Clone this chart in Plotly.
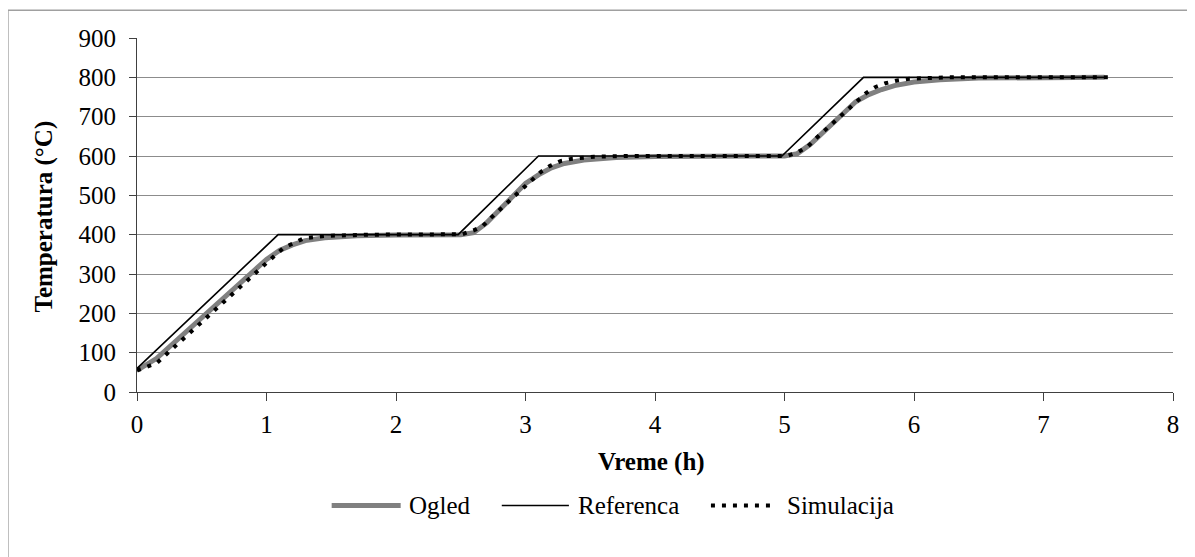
import plotly.graph_objects as go

# Reference (setpoint) profile
ref_t = [0, 1.09, 2.48, 3.10, 4.98, 5.61, 7.47]
ref_T = [60, 400, 400, 600, 600, 800, 800]

# Measured (Ogled)
ogled_t = [0, 0.15, 1.00, 1.10, 1.20, 1.30, 1.45, 1.70, 2.00, 2.50,
           2.60, 2.70, 3.00, 3.10, 3.20, 3.30, 3.45, 3.70, 4.00, 5.00,
           5.10, 5.20, 5.55, 5.65, 5.75, 5.85, 6.00, 6.20, 6.50, 7.47]
ogled_T = [55, 85, 337, 360, 374, 385, 392, 397, 399, 400,
           405, 430, 530, 552, 570, 581, 590, 596, 599, 600,
           606, 630, 738, 756, 769, 779, 788, 794, 798, 800]

# Simulation (Simulacija)
sim_t = [0, 0.15, 1.00, 1.13, 1.29, 1.46, 1.80, 2.51,
         2.60, 2.67, 2.73, 3.05, 3.12, 3.19, 3.27, 3.36, 3.45, 3.53, 3.80, 5.02,
         5.10, 5.18, 5.24, 5.56, 5.63, 5.70, 5.78, 5.87, 5.95, 6.10, 6.25, 7.53]
sim_T = [55, 73, 328, 366, 391, 397, 400, 401,
         411, 422, 442, 541, 560, 575, 587, 593, 596, 598, 600, 600,
         609, 624, 644, 742, 760, 775, 785, 792, 796, 798, 800, 800]

x_ticks = [0, 1, 2, 3, 4, 5, 6, 7, 8]
y_ticks = [0, 100, 200, 300, 400, 500, 600, 700, 800, 900]

series_names = ["Ogled", "Referenca", "Simulacija"]

FONT = "Liberation Serif, Times New Roman, Tinos, DejaVu Serif, serif"
FS = 25

styles = [
    dict(color="#808080", width=5),
    dict(color="#000000", width=1.7),
    dict(color="#000000", width=4, dash="4px,7px"),
]

fig = go.Figure()
for name, xs, ys, st in zip(series_names, [ogled_t, ref_t, sim_t],
                            [ogled_T, ref_T, sim_T], styles):
    fig.add_trace(go.Scatter(x=xs, y=ys, mode="lines", name=name, line=st,
                             showlegend=False))

fig.update_layout(
    width=1187, height=549,
    margin=dict(l=129, r=22, t=30, b=165),
    paper_bgcolor="white", plot_bgcolor="white",
    font=dict(family=FONT, size=FS, color="#000000"),
    showlegend=False,
    xaxis=dict(range=[0, 8], tickvals=x_ticks, ticktext=[str(v) for v in x_ticks],
               showgrid=False, zeroline=False, showline=True, linecolor="#404040",
               linewidth=1, ticks="outside", ticklen=8, tickcolor="#404040",
               ticklabelstandoff=2, tickfont=dict(family=FONT, size=FS)),
    yaxis=dict(range=[0, 900], tickvals=y_ticks, ticktext=[str(v) for v in y_ticks],
               showgrid=True, gridcolor="#8c8c8c", gridwidth=1, zeroline=False,
               showline=True, linecolor="#404040", linewidth=1,
               ticks="outside", ticklen=7, tickcolor="#404040",
               ticklabelstandoff=8, tickfont=dict(family=FONT, size=FS)),
)

# axis titles
fig.add_annotation(text="<b>Vreme (h)</b>", xref="paper", yref="paper",
                   x=0.497, y=-0.199, xanchor="center", yanchor="middle",
                   showarrow=False, font=dict(family=FONT, size=FS))
fig.add_annotation(text="<b>Temperatura (°C)</b>", xref="paper", yref="paper",
                   x=-0.0894, y=0.497, xanchor="center", yanchor="middle",
                   textangle=-90, showarrow=False, font=dict(family=FONT, size=FS))

# legend (drawn manually for Excel-like long samples)
leg_y = -0.3206
leg_items = [(0.1879, 0.2545, 0.2603), (0.3521, 0.4169, 0.4236), (0.5540, 0.6158, 0.6255)]
for name, st, (x0, x1, xt) in zip(series_names, styles, leg_items):
    fig.add_shape(type="line", xref="paper", yref="paper", x0=x0, x1=x1,
                  y0=leg_y, y1=leg_y, line=st)
    fig.add_annotation(text=name, xref="paper", yref="paper", x=xt, y=leg_y,
                       xanchor="left", yanchor="middle", showarrow=False,
                       font=dict(family=FONT, size=FS))

# outer chart border (cut off at right/bottom)
fig.add_shape(type="rect", xref="paper", yref="paper",
              x0=-0.1246, x1=1.1, y0=-1.2, y1=1.0787,
              line=dict(color="#a0a0a0", width=1.5), layer="below")

fig.write_html("out.html")
